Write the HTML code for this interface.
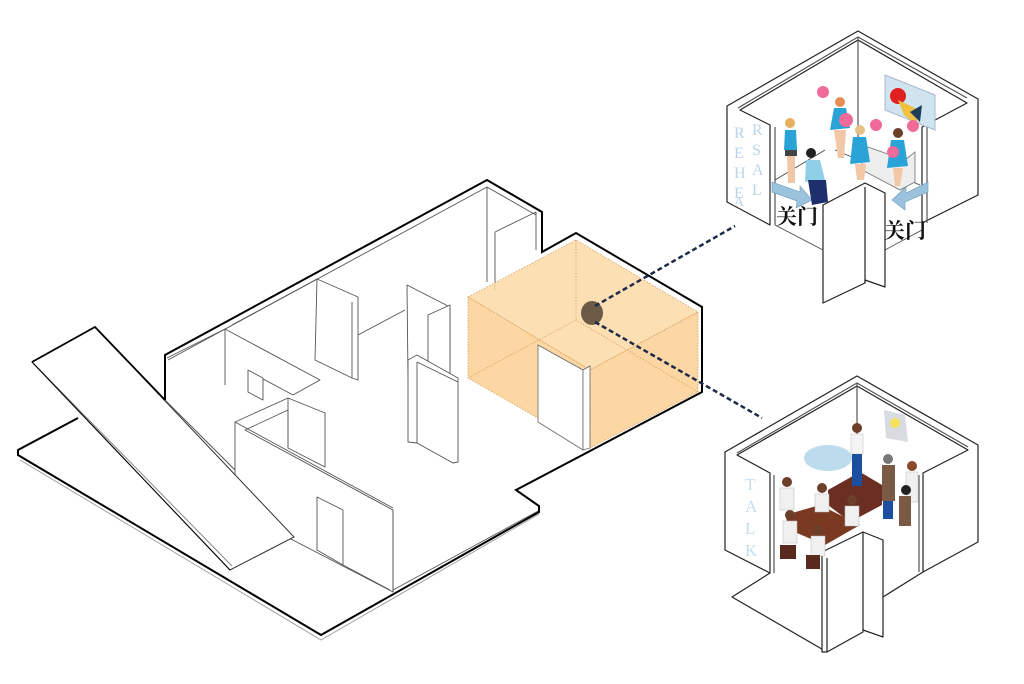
<!DOCTYPE html>
<html><head><meta charset="utf-8"><style>
html,body{margin:0;padding:0;background:#fff;width:1024px;height:684px;overflow:hidden}
svg{display:block}
text{font-family:"Liberation Serif","Noto Serif CJK SC",serif}
</style></head><body>
<svg width="1024" height="684" viewBox="0 0 1024 684" xmlns="http://www.w3.org/2000/svg">
<g fill="#fff" stroke="#555" stroke-width="0.9" stroke-linejoin="round">
<polyline points="20,460 321,640 539,514" fill="none" stroke="#999"/>
<polyline points="168,360 487,187 536,215" fill="none"/>
<line x1="487" y1="187" x2="487" y2="282"/>
<polyline points="495,232 536,212 536,250" fill="none"/>
<line x1="495" y1="232" x2="495" y2="290"/>
<polyline points="167,358 225,329 320,380 293,395 252,373" fill="none"/>
<line x1="225" y1="329" x2="225" y2="385"/>
<line x1="232" y1="325" x2="317" y2="279"/>
<polygon points="248,370 263,378 263,400 248,392"/>
<polygon points="317,279 358,297 358,380 352,378 315,360"/>
<line x1="352" y1="302" x2="352" y2="378"/>
<line x1="358" y1="335" x2="405" y2="310"/>
<polygon points="407,285 450,307 450,380 430,390 408,378"/>
<polygon points="428,315 450,305 450,380 428,390"/>
<polygon points="408,360 417,355 458,378 458,462 453,463 417,443 408,442"/>
<line x1="417" y1="362" x2="417" y2="443"/>
<line x1="417" y1="362" x2="458" y2="382"/>
<polygon points="235,422 288,398 325,413 325,467 288,448 288,410 245,430 393,510 393,592 235,510"/>
<line x1="288" y1="398" x2="288" y2="448"/>
<line x1="235" y1="422" x2="393" y2="508"/>
<line x1="393" y1="510" x2="393" y2="592"/>
<polygon points="317,497 343,510 343,565 317,550"/>
<line x1="343" y1="565" x2="390" y2="590"/>
<line x1="393" y1="590" x2="540" y2="510"/>
</g>
<g fill="#fff" stroke="#333" stroke-width="1">
<polygon points="32,362 95,327 294,537 230,570"/>
<line x1="38" y1="368" x2="232" y2="566" stroke="#888"/>
<line x1="165" y1="400" x2="235" y2="470" stroke="#555"/>
</g>
<polyline points="165,400 165,355 487,180 542,212 542,252 576,233 702,307 702,392 516,490 539,506 539,512 321,635 18,455 18,450 78,418" fill="none" stroke="#000" stroke-width="2"/>
<polyline points="32,362 95,327 165,400" fill="none" stroke="#000" stroke-width="1.8"/>
<line x1="32" y1="362" x2="230" y2="570" stroke="#000" stroke-width="1"/>
<g stroke="#d9a060" stroke-width="0.8" stroke-dasharray="1.5 1.5">
<polygon points="468,297 576,240 698,312 590,370" fill="#fcd9a6" fill-opacity="0.85"/>
<polygon points="468,297 590,370 590,448 468,378" fill="#fcd39a" fill-opacity="0.9"/>
<polygon points="590,370 698,312 698,392 590,448" fill="#fcd39a" fill-opacity="0.9"/>
<line x1="576" y1="240" x2="576" y2="320"/>
<line x1="468" y1="378" x2="576" y2="320"/>
<line x1="698" y1="392" x2="576" y2="320"/>
</g>
<polygon points="538,345 583,370 583,450 538,422" fill="#fff" stroke="#666" stroke-width="0.8"/>
<polygon points="583,370 590,366 590,448 583,450" fill="#fff" stroke="#666" stroke-width="0.8"/>
<ellipse cx="592" cy="313" rx="11" ry="12" fill="#6b5a44"/>
<line x1="595" y1="306" x2="735" y2="226" stroke="#1f2a4a" stroke-width="2.5" stroke-dasharray="5 3"/>
<line x1="595" y1="322" x2="762" y2="418" stroke="#1f2a4a" stroke-width="2.5" stroke-dasharray="5 3"/>

<g fill="#fff" stroke="#222" stroke-width="1.2" stroke-linejoin="round">
<polygon points="727,106 858,31 978,99 978,195 922,223 922,127 967,103 858,40 740,110 770,125 770,225 727,202" />
<polyline points="738,108 858,37 967,98" fill="none" stroke="#555"/>
<line x1="858" y1="37" x2="858" y2="137" stroke="#555"/>
<line x1="775" y1="127" x2="775" y2="225" stroke="#555"/>
<line x1="927" y1="127" x2="927" y2="223" stroke="#555"/>
<polygon points="823,205 865,183 885,193 885,287 865,280 865,283 823,303"/>
<line x1="865" y1="187" x2="865" y2="283"/>
</g>
<g stroke="#444" stroke-width="0.8"><line x1="775" y1="180" x2="825" y2="150"/><line x1="835" y1="150" x2="920" y2="185"/><line x1="775" y1="225" x2="823" y2="250"/><line x1="885" y1="250" x2="922" y2="230"/></g>
<g fill="#bcd4e8" font-size="16">
<text x="734" y="138">R</text><text x="734" y="158">E</text><text x="734" y="178">H</text><text x="734" y="198">E</text>
<text x="752" y="135">R</text><text x="752" y="155">S</text><text x="752" y="175">A</text><text x="752" y="195">L</text>
<text x="734" y="206" font-size="14">A</text>
</g>
<text x="776" y="224" font-size="21" font-weight="bold" fill="#111">关门</text>
<text x="884" y="238" font-size="21" font-weight="bold" fill="#111">关门</text>
<polygon points="772,182 800,192 800,186 812,200 796,208 797,201 772,192" fill="#9cc3dd" stroke="#6a98b8" stroke-width="0.6"/>
<polygon points="928,182 906,193 906,187 892,200 905,210 905,202 928,192" fill="#9cc3dd" stroke="#6a98b8" stroke-width="0.6"/>
<polygon points="885,75 935,95 935,130 885,110" fill="#cfe4ef" stroke="#a9b7d0"/>
<circle cx="898" cy="96" r="8" fill="#e02020"/>
<polygon points="898,100 915,108 918,126 904,115" fill="#f0c040"/>
<polygon points="910,112 922,105 920,122" fill="#1e3e5c"/>
<polygon points="862,145 905,160 915,152 915,182 900,190 862,170" fill="#eee" stroke="#888"/>
<g>
<circle cx="823" cy="92" r="6" fill="#f06a9a"/>
<circle cx="840" cy="102" r="5" fill="#e98c58"/>
<polygon points="834,108 846,108 850,128 830,130" fill="#2aa3d6"/>
<polygon points="834,130 846,130 844,158 838,158" fill="#f1c7a6"/>
<circle cx="846" cy="120" r="7" fill="#f06a9a"/>
<circle cx="876" cy="125" r="6" fill="#f06a9a"/>
<circle cx="860" cy="130" r="5" fill="#e6c28a"/>
<polygon points="853,137 866,137 870,162 850,164" fill="#2aa3d6"/>
<polygon points="855,164 866,164 864,180 857,180" fill="#f1c7a6"/>
<circle cx="913" cy="126" r="6" fill="#f06a9a"/>
<circle cx="898" cy="133" r="5" fill="#6b3f2a"/>
<polygon points="891,140 904,140 908,166 887,168" fill="#2aa3d6"/>
<circle cx="893" cy="152" r="6" fill="#f06a9a"/>
<polygon points="893,168 903,168 900,186 895,186" fill="#f1c7a6"/>
<circle cx="790" cy="123" r="5" fill="#e6b060"/>
<polygon points="785,130 796,130 797,150 784,150" fill="#2aa3d6"/>
<rect x="785" y="150" width="12" height="6" fill="#444"/>
<polygon points="787,156 795,156 795,183 788,183" fill="#f1c7a6"/>
<circle cx="811" cy="153" r="5" fill="#222"/>
<polygon points="806,160 820,160 825,180 805,182" fill="#8fd0e6"/>
<polygon points="808,180 826,180 828,202 812,205" fill="#1e2f6e"/>
</g>

<g fill="#fff" stroke="#222" stroke-width="1.2" stroke-linejoin="round">
<polygon points="725,452 857,376 978,445 978,542 923,572 923,473 968,450 857,386 737,455 770,473 770,573 725,550"/>
<polyline points="737,453 857,383 968,447" fill="none" stroke="#555"/>
<line x1="857" y1="383" x2="857" y2="477" stroke="#555"/>
<line x1="774" y1="475" x2="774" y2="573" stroke="#555"/>
<line x1="919" y1="475" x2="919" y2="572" stroke="#555"/>
<polyline points="770,573 732,597 827,652" fill="none"/>
<polygon points="822,552 863,532 883,540 883,637 863,630 863,632 827,652 822,652"/>
<line x1="863" y1="532" x2="863" y2="630"/>
<line x1="827" y1="558" x2="827" y2="652"/>
<line x1="883" y1="597" x2="923" y2="572"/>
</g>
<g fill="#c5dde8" font-size="17"><text x="745" y="490">T</text><text x="745" y="512">A</text><text x="745" y="534">L</text><text x="745" y="556">K</text></g>
<ellipse cx="828" cy="458" rx="24" ry="13" fill="#bcdcee"/>
<polygon points="884,410 905,415 908,442 886,438" fill="#d8dbe0"/>
<circle cx="895" cy="423" r="5" fill="#f3e25a"/>
<polygon points="828,490 860,472 882,485 882,505 850,522 828,505" fill="#6b2e22"/>
<polygon points="785,515 820,505 860,525 825,545 790,530" fill="#7a3a22"/>
<g>
<circle cx="857" cy="428" r="5" fill="#6b3f2a"/>
<rect x="851" y="434" width="12" height="20" fill="#f4f4f4" stroke="#bbb" stroke-width="0.5"/>
<rect x="852" y="454" width="10" height="32" fill="#1d4fa0"/>
<circle cx="888" cy="459" r="5" fill="#777"/>
<rect x="882" y="465" width="13" height="36" fill="#7a5a44"/>
<rect x="883" y="501" width="10" height="18" fill="#1d4fa0"/>
<circle cx="912" cy="466" r="5" fill="#8a4a2a"/>
<rect x="906" y="472" width="12" height="30" fill="#f0f0f0" stroke="#bbb" stroke-width="0.5"/>
<circle cx="906" cy="490" r="5" fill="#222"/>
<rect x="899" y="496" width="12" height="30" fill="#7a5a44"/>
<circle cx="787" cy="482" r="5" fill="#6b3f2a"/>
<rect x="780" y="488" width="14" height="22" fill="#f0f0f0" stroke="#bbb" stroke-width="0.5"/>
<circle cx="822" cy="488" r="5" fill="#6b3f2a"/>
<rect x="815" y="494" width="14" height="18" fill="#f0f0f0" stroke="#bbb" stroke-width="0.5"/>
<circle cx="852" cy="500" r="5" fill="#6b3f2a"/>
<rect x="845" y="506" width="14" height="20" fill="#f0f0f0" stroke="#bbb" stroke-width="0.5"/>
<circle cx="790" cy="515" r="5" fill="#6b3f2a"/>
<rect x="783" y="521" width="14" height="22" fill="#f0f0f0" stroke="#bbb" stroke-width="0.5"/>
<circle cx="818" cy="530" r="5" fill="#6b3f2a"/>
<rect x="811" y="536" width="14" height="20" fill="#f0f0f0" stroke="#bbb" stroke-width="0.5"/>
<rect x="780" y="545" width="16" height="14" fill="#5a2a1e"/>
<rect x="806" y="555" width="14" height="14" fill="#5a2a1e"/>
</g>
</svg>
</body></html>
